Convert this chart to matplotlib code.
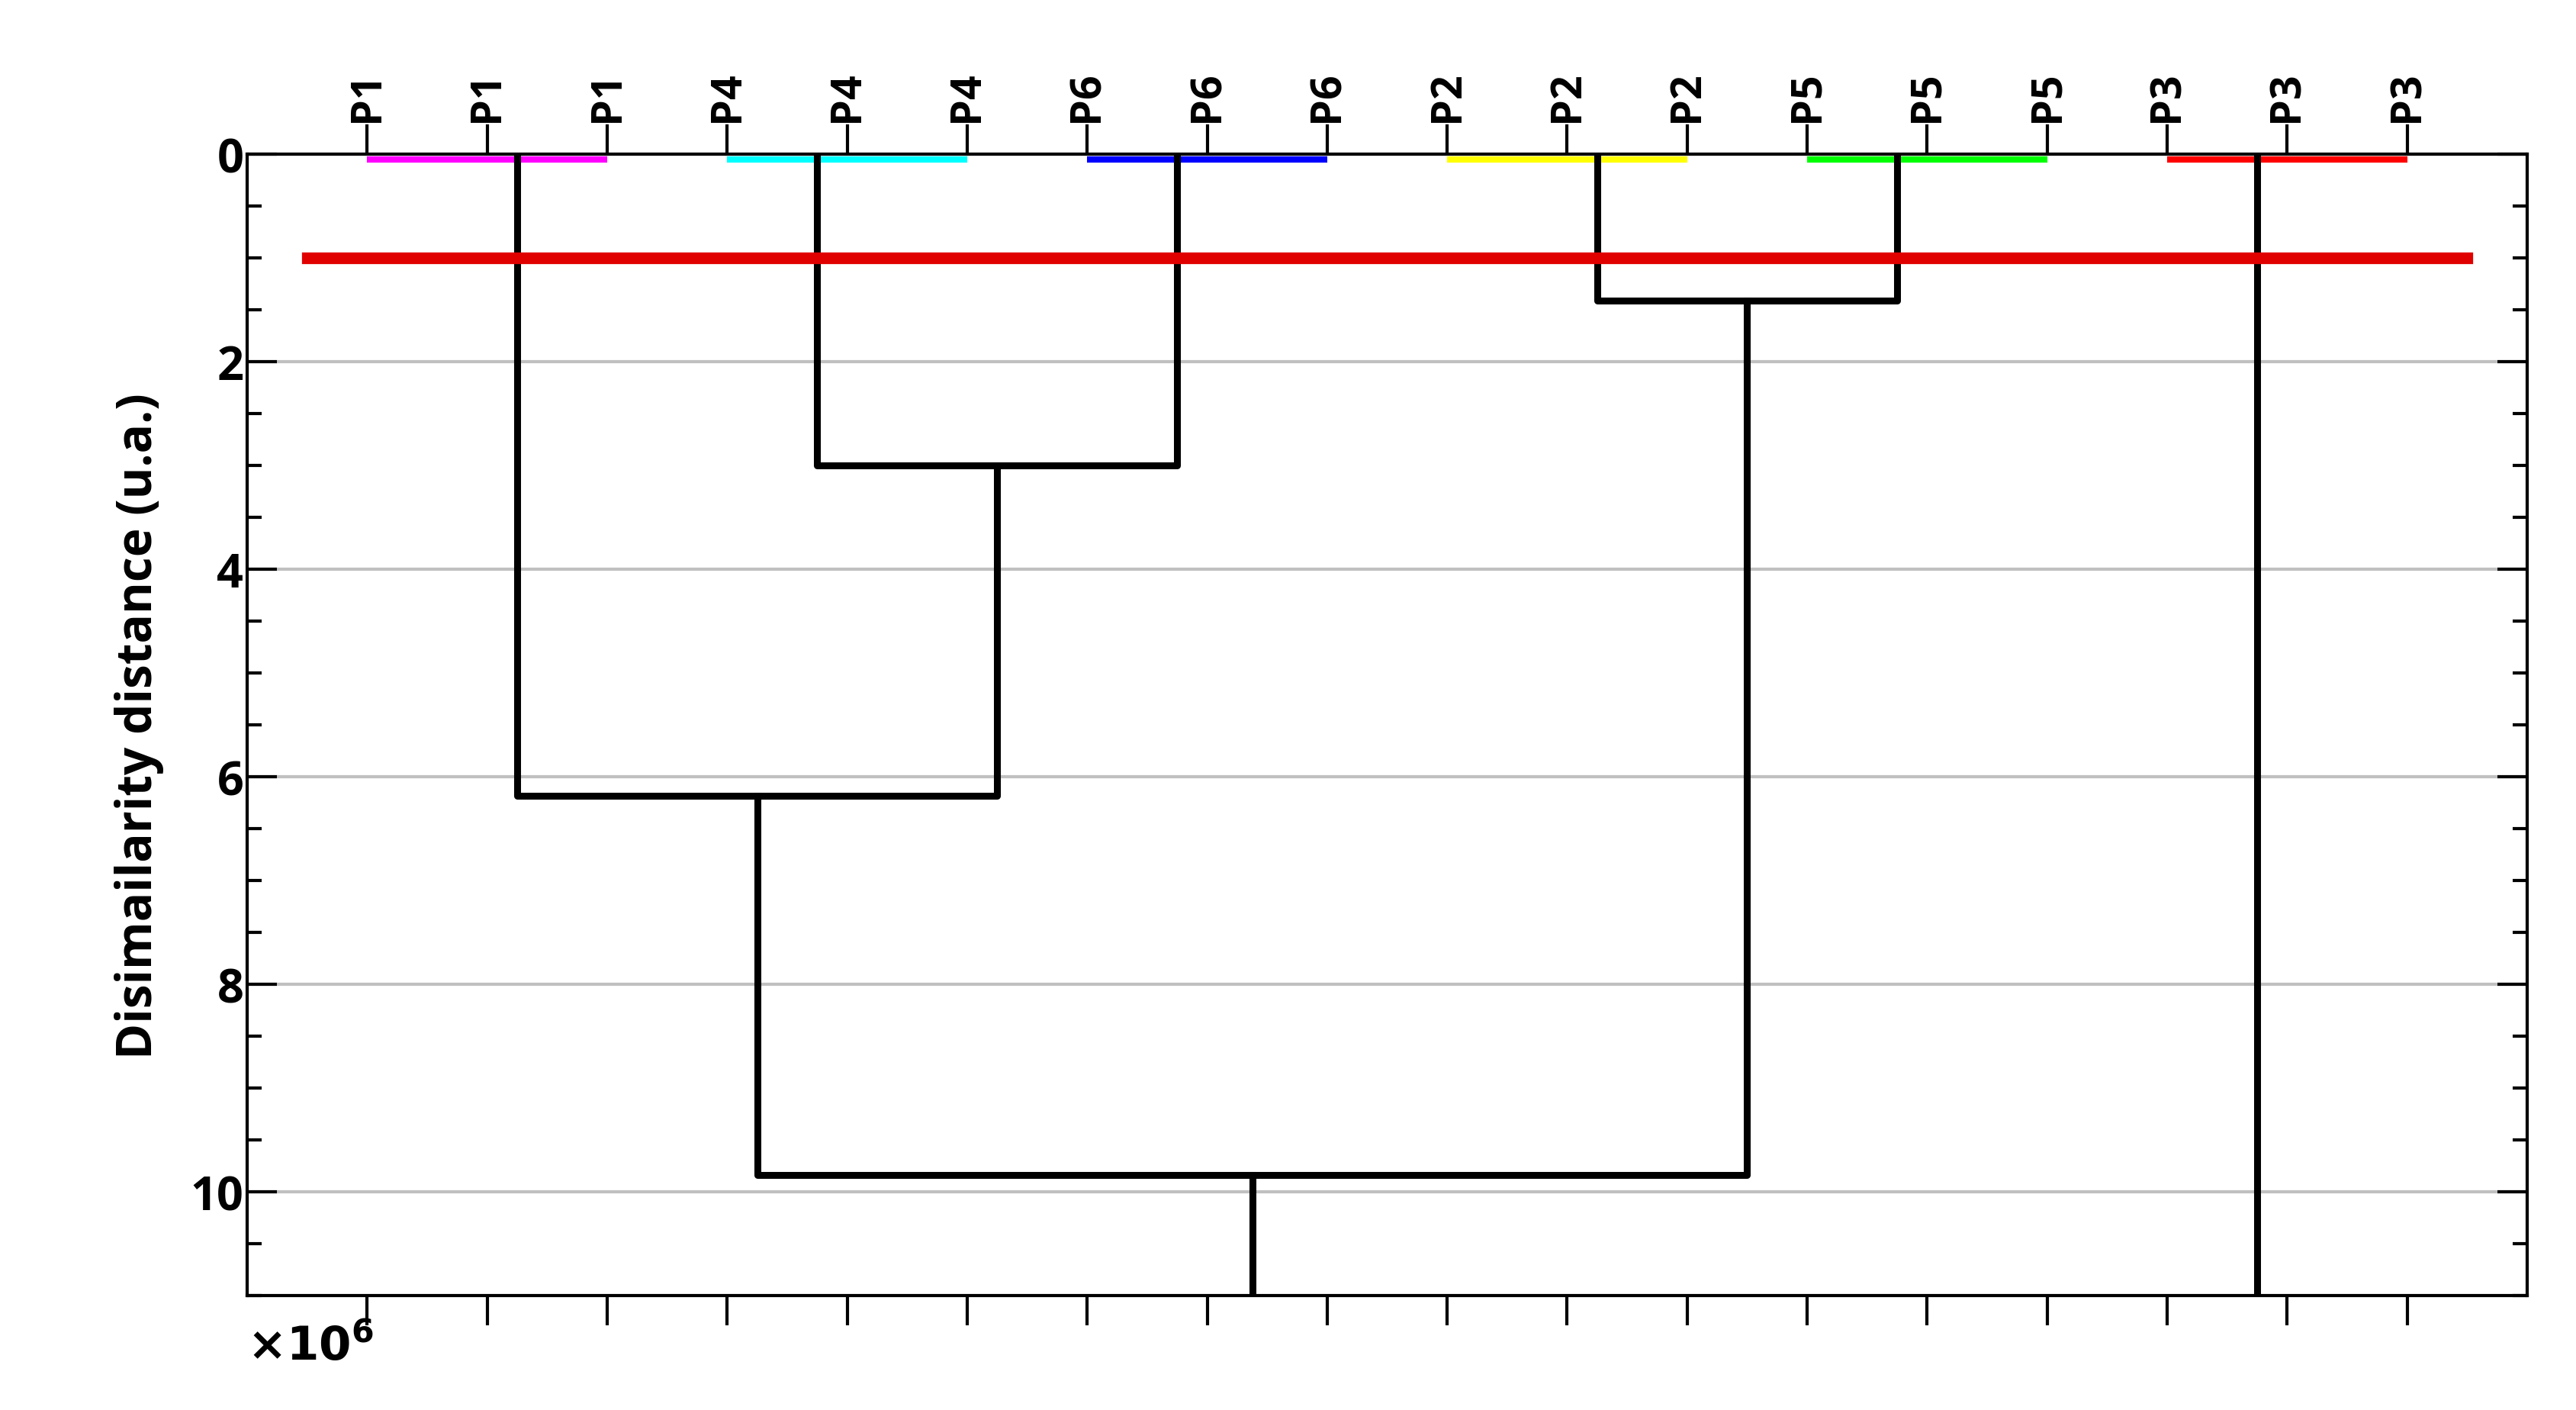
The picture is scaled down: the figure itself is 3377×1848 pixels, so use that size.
import matplotlib.pyplot as plt
from matplotlib.ticker import MultipleLocator

# leaf labels and cluster data
leaf_labels = ['P1'] * 3 + ['P4'] * 3 + ['P6'] * 3 + ['P2'] * 3 + ['P5'] * 3 + ['P3'] * 3
cluster_names = ['P1', 'P4', 'P6', 'P2', 'P5', 'P3']
cluster_colors = ['#ff00ff', '#00ffff', '#0000ff', '#ffff00', '#00ff00', '#ff0000']
cluster_centers = [2.25, 4.75, 7.75, 11.25, 13.75, 16.75]
# merges: (left x, right x, height, new center)
merge_left = [4.75, 2.25, 11.25, 4.25]
merge_right = [7.75, 6.25, 13.75, 12.5]
merge_height = [3.0, 6.18, 1.41, 9.84]
merge_left_base = [0.0, 0.0, 0.0, 6.18]
merge_right_base = [0.0, 3.0, 0.0, 1.41]
threshold = 1.0
y_max = 11

plt.rcParams['font.family'] = ['Open Sans', 'DejaVu Sans']
plt.rcParams['font.weight'] = 'bold'

fig = plt.figure(figsize=(33.77, 18.49), dpi=100)
ax = fig.add_axes([0.096, 0.081, 0.885, 0.809])

lw = 6.5
n = len(leaf_labels)
for i, c in enumerate(cluster_colors):
    ax.plot([3 * i + 1, 3 * i + 3], [0.05, 0.05], color=c, lw=6, solid_capstyle='butt', zorder=3)

for xl, xr, h, bl, br in zip(merge_left, merge_right, merge_height, merge_left_base, merge_right_base):
    ax.plot([xl, xl, xr, xr], [bl, h, h, br], color='black', lw=lw, zorder=4)
# root and the lone P3 cluster run to the bottom
ax.plot([8.375, 8.375], [merge_height[-1], y_max], color='black', lw=lw, zorder=4)
ax.plot([cluster_centers[-1]] * 2, [0, y_max], color='black', lw=lw, zorder=4)

ax.plot([0.5, 18.5], [threshold, threshold], color='#e00000', lw=11, zorder=5)

ax.set_xlim(0, n + 1)
ax.set_ylim(y_max, 0)
ax.set_xticks(range(1, n + 1))
ax.set_xticklabels(leaf_labels, rotation=90, fontsize=40, fontweight='bold')
ax.tick_params(axis='x', top=True, bottom=True, labeltop=True, labelbottom=False,
               direction='out', length=28, width=3)
ax.set_yticks([0, 2, 4, 6, 8, 10])
ax.yaxis.set_minor_locator(MultipleLocator(0.5))
ax.tick_params(axis='y', which='both', left=True, right=True, direction='in', width=3, labelsize=44)
ax.tick_params(axis='y', which='major', length=28)
ax.tick_params(axis='y', which='minor', length=14)
for t in ax.get_yticklabels():
    t.set_fontweight('bold')
ax.grid(axis='y', color='#c0c0c0', lw=3)
for s in ax.spines.values():
    s.set_linewidth(3)

ax.set_ylabel('Disimailarity distance (u.a.)', fontsize=46, fontweight='bold', labelpad=25)
ax.text(0.0, -0.025, r'$\times10^6$', transform=ax.transAxes, fontsize=44, va='top', ha='left')

fig.savefig('out.png', dpi=100)
